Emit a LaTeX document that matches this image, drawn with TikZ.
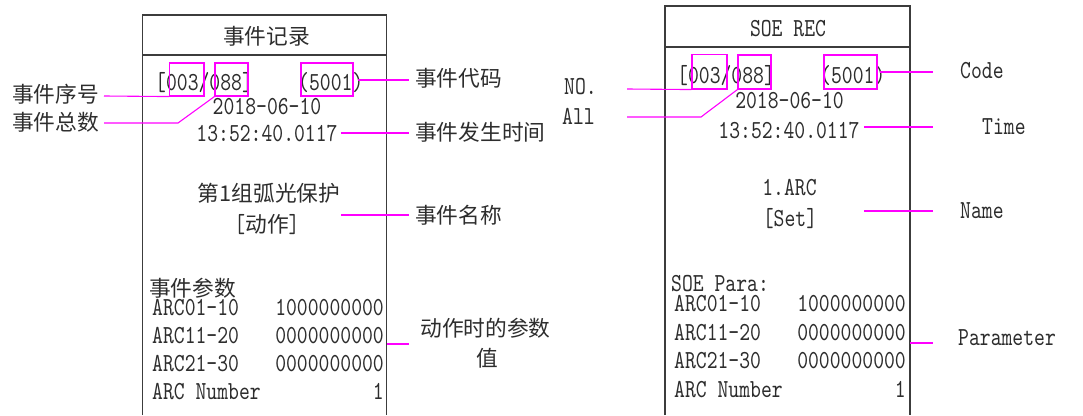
\documentclass[tikz,border=0pt]{standalone}
\usepackage{fontspec}
\newfontfamily\cjk{Noto Sans CJK SC}
\newfontfamily\mono{lmmono10-regular.otf}[FakeStretch=0.795]
\definecolor{txt}{RGB}{45,45,45}
\definecolor{frm}{RGB}{60,60,60}
\definecolor{mag}{RGB}{255,0,255}
\begin{document}
\begin{tikzpicture}[x=1pt,y=-1pt,
  mtxt/.style={inner sep=0pt, anchor=base, font=\mono\fontsize{26}{30}\selectfont, text=txt},
  ctxt/.style={inner sep=0pt, anchor=base, font=\cjk\fontsize{21.7}{26}\selectfont, text=txt},
  magline/.style={draw=mag, line width=1.1pt},
  magbox/.style={draw=mag, line width=1.1pt, inner sep=0pt, minimum width=0pt, minimum height=0pt},
  frame/.style={draw=frm, line width=1.3pt}]
\useasboundingbox (0,0) rectangle (1083,415);

% ---------------- left panel ----------------
\draw[frame] (142.5,415) -- (142.5,15) -- (386.7,15) -- (386.7,415);
\draw[frame] (142.5,55) -- (386.7,55);
\node[ctxt] (lhead) at (266.5,44) {事件记录};

\node[mtxt, anchor=base west] (lidx) at (155,90) {[003/088]};
\node[mtxt, anchor=base west] (lcode) at (298,90) {(5001)};
\node[mtxt] (ldate) at (267,114) {2018-06-10};
\node[mtxt] (ltime) at (267,141.5) {13:52:40.0117};
\node[ctxt] (lname) at (269,201.7) {第1组弧光保护};
\node[inner sep=0pt, anchor=base, text=txt] (lact) at (267,232) {{\mono\fontsize{26}{30}\selectfont[}{\cjk\fontsize{21.7}{26}\selectfont 动作}{\mono\fontsize{26}{30}\selectfont]}};
\node[ctxt, anchor=base west] (lpar) at (149,296) {事件参数};
\node[mtxt, anchor=base west] (la1) at (152,315) {ARC01-10};
\node[mtxt, anchor=base west] (la2) at (152,343) {ARC11-20};
\node[mtxt, anchor=base west] (la3) at (152,371.5) {ARC21-30};
\node[mtxt, anchor=base west] (la4) at (152,399) {ARC Number};
\node[mtxt, anchor=base east] (lv1) at (384,315) {1000000000};
\node[mtxt, anchor=base east] (lv2) at (384,343) {0000000000};
\node[mtxt, anchor=base east] (lv3) at (384,371.5) {0000000000};
\node[mtxt, anchor=base east] (lv4) at (384,399) {1};

\node[magbox, minimum width=34.5pt, minimum height=33pt] (lr1) at (186.75,79.5) {};
\node[magbox, minimum width=33pt, minimum height=33pt] (lr2) at (231.5,79.5) {};
\node[magbox, minimum width=52pt, minimum height=33pt] (lr3) at (327,79.5) {};

\node[ctxt, anchor=base west] (lseq) at (12,102) {事件序号};
\node[ctxt, anchor=base west] (ltot) at (12,130) {事件总数};
\node[ctxt, anchor=base west] (lcodel) at (415,86) {事件代码};
\node[ctxt, anchor=base west] (ltimel) at (415,140) {事件发生时间};
\node[ctxt, anchor=base west] (lnamel) at (415,223) {事件名称};
\node[ctxt] (lparl1) at (485.5,336) {动作时的参数};
\node[ctxt] (lparl2) at (487.5,366) {值};

\coordinate (ls0) at (104,96);
\coordinate (lt0) at (104,123);
\coordinate (lt1) at (178,123);
\draw[magline] (ls0) -- (lr1.south west);
\draw[magline] (lt0) -- (lt1) -- (lr2.south west);
\coordinate (lc0) at (358,80);  \coordinate (lc1) at (409,80);
\coordinate (lm0) at (341,133); \coordinate (lm1) at (409,133);
\coordinate (ln0) at (341,215); \coordinate (ln1) at (409,215);
\coordinate (lp0) at (386.7,344); \coordinate (lp1) at (409,344);
\draw[magline] (lc0) -- (lc1);
\draw[magline] (lm0) -- (lm1);
\draw[magline] (ln0) -- (ln1);
\draw[magline] (lp0) -- (lp1);

% ---------------- right panel ----------------
\draw[frame] (665,415) -- (665,6) -- (910,6) -- (910,415);
\draw[frame] (665,47) -- (910,47);
\node[mtxt] (rhead) at (788,36) {SOE REC};

\node[mtxt, anchor=base west] (ridx) at (677,83) {[003/088]};
\node[mtxt, anchor=base west] (rcode) at (820,83) {(5001)};
\node[mtxt] (rdate) at (789.5,108) {2018-06-10};
\node[mtxt] (rtime) at (789,138) {13:52:40.0117};
\node[mtxt] (rname) at (789.5,195) {1.ARC};
\node[mtxt] (rset) at (790,226) {[Set]};
\node[mtxt, anchor=base west] (rpar) at (671,291) {SOE Para:};
\node[mtxt, anchor=base west] (ra1) at (674,311) {ARC01-10};
\node[mtxt, anchor=base west] (ra2) at (674,340) {ARC11-20};
\node[mtxt, anchor=base west] (ra3) at (674,368) {ARC21-30};
\node[mtxt, anchor=base west] (ra4) at (674,397) {ARC Number};
\node[mtxt, anchor=base east] (rv1) at (906,311) {1000000000};
\node[mtxt, anchor=base east] (rv2) at (906,340) {0000000000};
\node[mtxt, anchor=base east] (rv3) at (906,368) {0000000000};
\node[mtxt, anchor=base east] (rv4) at (906,397) {1};

\node[magbox, minimum width=35pt, minimum height=34.5pt] (rr1) at (709.5,71.75) {};
\node[magbox, minimum width=33pt, minimum height=34pt] (rr2) at (754.5,72) {};
\node[magbox, minimum width=53pt, minimum height=34pt] (rr3) at (850.5,72) {};

\node[mtxt, anchor=base west] (rno) at (564,94) {NO.};
\node[mtxt, anchor=base west] (rall) at (562,124) {All};
\node[mtxt, anchor=base west] (rcodel) at (960,78) {Code};
\node[mtxt, anchor=base west] (rtimel) at (982,134) {Time};
\node[mtxt, anchor=base west] (rnamel) at (960,218) {Name};
\node[mtxt, anchor=base west] (rparl) at (958,345) {Parameter};

\coordinate (rs0) at (627,89);
\coordinate (rt0) at (627,117);
\coordinate (rt1) at (701,117);
\draw[magline] (rs0) -- (rr1.south west);
\draw[magline] (rt0) -- (rt1) -- (rr2.south west);
\coordinate (rc0) at (880,72);  \coordinate (rc1) at (933,72);
\coordinate (rm0) at (864,127); \coordinate (rm1) at (933,127);
\coordinate (rn0) at (864,211); \coordinate (rn1) at (933,211);
\coordinate (rp0) at (910,343); \coordinate (rp1) at (933,343);
\draw[magline] (rc0) -- (rc1);
\draw[magline] (rm0) -- (rm1);
\draw[magline] (rn0) -- (rn1);
\draw[magline] (rp0) -- (rp1);
\end{tikzpicture}
\end{document}
